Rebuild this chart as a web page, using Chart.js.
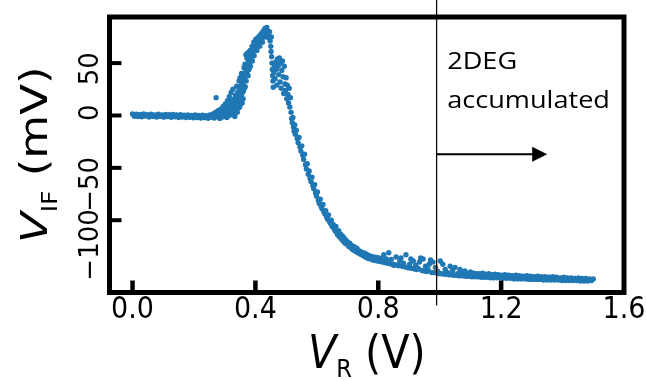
<!DOCTYPE html>
<html>
<head>
<meta charset="utf-8">
<script src="https://cdn.jsdelivr.net/npm/chart.js@4.4.1/dist/chart.umd.min.js"></script>
<style>
  html, body { margin: 0; padding: 0; background: #fff; }
  #chart { display: block; }
</style>
</head>
<body>
<canvas id="chart" width="646" height="381"></canvas>
<script>
// ============================================================
// Data
// ============================================================

// [V_R (V), V_IF (mV)] pairs, split by region of the sweep
const FLAT_POINTS = [
  [0.000, 1.5], [0.006, -0.8], [0.012, 1.2], [0.018, -1.0], [0.024, 0.9], [0.030, -1.3],
  [0.036, 1.4], [0.042, -0.6], [0.048, 0.8], [0.054, -1.5], [0.060, 1.1], [0.066, -0.9],
  [0.072, 0.6], [0.078, -1.4], [0.084, 1.3], [0.090, -0.7], [0.096, 0.5], [0.102, -1.6],
  [0.108, 1.0], [0.114, -1.1], [0.120, 0.7], [0.126, -1.8], [0.132, 0.9], [0.138, -1.2],
  [0.144, 0.4], [0.150, -1.9], [0.156, 0.8], [0.162, -1.5], [0.168, 0.2], [0.174, -2.0],
  [0.180, 0.6], [0.186, -1.7], [0.192, 0.1], [0.198, -2.2], [0.204, 0.5], [0.210, -1.9],
  [0.216, 0.0], [0.222, -2.4], [0.228, 0.3], [0.234, -2.1], [0.240, -0.2], [0.246, -2.6],
  [0.252, 0.4], [0.258, -1.8],
];

const RISE_POINTS = [
  [0.262, 1.5], [0.266, -2.5], [0.270, 3.0], [0.272, 17.0], [0.275, -1.0], [0.278, 4.5],
  [0.281, 0.5], [0.284, -2.8], [0.287, 6.0], [0.290, 2.0], [0.292, -1.5], [0.295, 8.5],
  [0.298, 3.5], [0.300, 0.0], [0.302, 11.0], [0.305, 5.0], [0.307, -2.0], [0.309, 14.0],
  [0.311, 7.5], [0.313, 2.5], [0.315, 18.0], [0.317, 9.5], [0.319, 0.5], [0.321, 22.0],
  [0.323, 12.0], [0.325, 4.0], [0.327, 25.0], [0.329, 15.5], [0.331, 6.5], [0.333, -1.0],
  [0.335, 19.0], [0.337, 10.0], [0.339, 28.0], [0.341, 3.0], [0.343, 22.5], [0.345, 14.0],
  [0.347, 33.0], [0.349, 8.0], [0.351, 26.0], [0.353, 18.5], [0.355, 40.0], [0.357, 12.0],
  [0.359, 31.0], [0.361, 23.0], [0.363, 45.5], [0.365, 36.0], [0.367, 27.5], [0.369, 58.0],
  [0.371, 48.0], [0.373, 40.0], [0.375, 60.0], [0.377, 52.5], [0.379, 44.0], [0.381, 56.0],
  [0.383, 62.0], [0.386, 54.0], [0.389, 66.0], [0.392, 59.0], [0.395, 70.0], [0.398, 64.0],
  [0.401, 72.5], [0.404, 67.0], [0.407, 74.0], [0.410, 69.0], [0.413, 76.0], [0.416, 71.5],
  [0.419, 78.0], [0.422, 74.0], [0.425, 80.5], [0.428, 76.5], [0.431, 83.0], [0.434, 79.0],
  [0.437, 84.0], [0.440, 80.0],
  // second pass through the noisy rise
  [0.296, -0.5], [0.304, 2.5], [0.310, -0.5], [0.316, 5.0], [0.320, 13.5], [0.324, 7.0],
  [0.328, 1.5], [0.332, 11.5], [0.336, 4.5], [0.338, 16.0], [0.340, 20.0], [0.344, 7.0],
  [0.346, 27.0], [0.348, 17.0], [0.350, 36.0], [0.352, 11.0], [0.354, 29.0], [0.356, 21.0],
  [0.358, 37.0], [0.360, 16.0], [0.362, 34.0], [0.364, 26.0], [0.366, 49.0], [0.368, 41.0],
  [0.370, 33.0], [0.372, 55.0], [0.374, 46.0], [0.376, 38.0], [0.378, 59.0], [0.380, 50.0],
  [0.384, 47.0], [0.387, 60.0], [0.390, 52.0], [0.393, 64.0], [0.396, 57.0], [0.400, 68.0],
  [0.405, 62.0], [0.409, 72.0], [0.414, 66.0], [0.418, 75.0], [0.423, 70.0], [0.427, 79.0],
  [0.432, 75.0], [0.436, 81.0],
];

const FALL_POINTS = [
  [0.442, 78], [0.444, 74], [0.446, 80], [0.448, 71], [0.450, 66], [0.451, 61], [0.452, 75],
  [0.453, 56], [0.454, 50], [0.455, 44], [0.456, 38], [0.457, 33], [0.458, 27], [0.460, 41],
  [0.462, 47], [0.464, 35], [0.466, 51], [0.468, 44], [0.470, 29], [0.472, 54], [0.474, 47],
  [0.476, 39], [0.478, 55], [0.480, 32], [0.482, 50], [0.484, 26], [0.486, 43], [0.488, 52],
  [0.490, 37], [0.492, 21], [0.494, 47], [0.496, 30], [0.498, 24], [0.500, 36], [0.502, 16],
  [0.504, 29], [0.506, 20], [0.508, 12], [0.510, 26], [0.512, 8], [0.514, 17], [0.516, 3],
  [0.518, -3], [0.520, -7], [0.522, -2], [0.524, -11], [0.526, -15], [0.528, -9], [0.530, -18],
  [0.533, -14], [0.536, -22], [0.539, -26], [0.542, -21], [0.545, -30], [0.548, -34], [0.551, -29],
  [0.554, -38], [0.557, -42], [0.560, -37], [0.563, -47], [0.566, -51], [0.569, -46], [0.572, -56],
  [0.575, -53], [0.578, -60], [0.581, -63], [0.584, -59], [0.587, -67], [0.590, -70], [0.593, -66],
  [0.596, -74], [0.599, -77], [0.602, -73], [0.605, -81], [0.608, -84], [0.611, -80], [0.614, -87],
  [0.617, -89], [0.620, -85], [0.623, -92], [0.626, -94], [0.629, -91], [0.632, -97], [0.635, -99],
  [0.638, -95], [0.641, -101], [0.644, -103], [0.647, -100], [0.650, -106], [0.653, -104],
  [0.656, -108], [0.659, -110], [0.662, -106], [0.665, -112], [0.668, -114], [0.671, -110],
  [0.674, -116], [0.677, -113], [0.680, -118], [0.683, -115], [0.686, -120], [0.689, -117],
  [0.692, -122], [0.695, -119], [0.698, -123], [0.701, -121], [0.704, -125], [0.707, -122],
  [0.710, -126], [0.713, -124], [0.716, -128], [0.719, -125], [0.722, -129], [0.725, -126],
  [0.728, -130], [0.731, -127], [0.734, -131], [0.737, -129], [0.740, -132], [0.743, -130],
  [0.746, -133], [0.749, -131], [0.752, -134], [0.755, -131.5], [0.758, -135], [0.761, -132.5],
  [0.764, -136], [0.767, -133.5], [0.770, -136.5], [0.773, -134], [0.776, -137], [0.779, -135],
];

const TAIL_POINTS = [
  [0.782, -138], [0.786, -135], [0.790, -138.5], [0.794, -135.5], [0.798, -139], [0.802, -136],
  [0.806, -139.5], [0.810, -136.5], [0.814, -140], [0.818, -133], [0.822, -140.5], [0.826, -137],
  [0.830, -141], [0.834, -131], [0.838, -141.5], [0.842, -137.5], [0.846, -142], [0.850, -143],
  [0.854, -142.5], [0.858, -135], [0.862, -143], [0.866, -143.5], [0.870, -139], [0.874, -136],
  [0.878, -144], [0.882, -141], [0.886, -144.5], [0.890, -133], [0.894, -145], [0.898, -145.5],
  [0.902, -142], [0.906, -137], [0.910, -146], [0.914, -139], [0.918, -146.5], [0.922, -143],
  [0.926, -147], [0.930, -146], [0.934, -140], [0.938, -136], [0.942, -148], [0.946, -137],
  [0.950, -148.5], [0.954, -144], [0.958, -149], [0.962, -147], [0.966, -142], [0.970, -138],
  [0.974, -150], [0.978, -140], [0.982, -150], [0.986, -145], [0.990, -150.5], [0.994, -149],
  [0.998, -151], [1.002, -139], [1.006, -151], [1.010, -142], [1.014, -151.5], [1.018, -147],
  [1.022, -151.5], [1.026, -150], [1.030, -152], [1.034, -144], [1.038, -152], [1.042, -148],
  [1.046, -152.5], [1.050, -145], [1.054, -152.5], [1.058, -151], [1.062, -153], [1.066, -147],
  [1.070, -153], [1.074, -150], [1.078, -153], [1.082, -148.5], [1.086, -153.5], [1.090, -151],
  [1.095, -153.5], [1.100, -149.5], [1.105, -154], [1.110, -150.5], [1.115, -154], [1.120, -151],
  [1.125, -154], [1.130, -151], [1.135, -154.5], [1.140, -150.5], [1.145, -154.5], [1.150, -151.5],
  [1.155, -154.5], [1.160, -151], [1.165, -155], [1.170, -152], [1.175, -155], [1.180, -151.5],
  [1.185, -155], [1.190, -152], [1.195, -155], [1.200, -152.5], [1.206, -155.5], [1.212, -152],
  [1.218, -155.5], [1.224, -152.5], [1.230, -155.5], [1.236, -153], [1.242, -156], [1.248, -152.5],
  [1.254, -156], [1.260, -153], [1.266, -156], [1.272, -153.5], [1.278, -156], [1.284, -153],
  [1.290, -156.5], [1.296, -153.5], [1.302, -156.5], [1.308, -154], [1.314, -156.5], [1.320, -153.5],
  [1.326, -156.5], [1.332, -154], [1.338, -157], [1.344, -154], [1.350, -157], [1.356, -154.5],
  [1.362, -157], [1.368, -154], [1.374, -157], [1.380, -154.5], [1.386, -157], [1.392, -155],
  [1.398, -157.5], [1.404, -154.5], [1.410, -157.5], [1.416, -155], [1.422, -157.5], [1.428, -155],
  [1.434, -157.5], [1.440, -155.5], [1.446, -157.5], [1.452, -155], [1.458, -158], [1.464, -155.5],
  [1.470, -158], [1.476, -155.5], [1.482, -158], [1.488, -156], [1.494, -157.5], [1.500, -156],
];

const X_TICKS = [0.0, 0.4, 0.8, 1.2, 1.6];
const Y_TICKS = [-100, -50, 0, 50];
const X_RANGE = [-0.075, 1.6];
const Y_RANGE = [-169, 94];

// Annotation: start of the "2DEG accumulated" region
const BOUNDARY_VR = 0.99;
const ARROW_END_VR = 1.35;
const ARROW_VIF = -37;
const NOTE_LINES = ['2DEG', 'accumulated'];
const NOTE_VIF = [44, 7.5];

// ============================================================
// Styles
// ============================================================

const POINT_COLOR = '#1f77b4';
const MPL_FONT = '"DejaVu Sans"';
const TICK_FONT_X = '"DejaVu Sans Condensed", "DejaVu Sans"';
const NOTE_FONT = '"Open Sans", "Noto Sans", sans-serif';

// ============================================================
// Helpers
// ============================================================

function toPoints(pairs) {
  return pairs.map(([vr, vif]) => ({ x: vr, y: vif }));
}

function fmtTick(v) {
  return v < 0 ? '\u2212' + Math.abs(v) : String(v);
}

// Draw a run of text pieces (main text + subscript) centred on x = 0
function drawRich(ctx, parts) {
  let total = 0;
  parts.forEach(p => { ctx.font = p.font; total += ctx.measureText(p.text).width; });
  let cx = -total / 2;
  parts.forEach(p => {
    ctx.font = p.font;
    ctx.fillText(p.text, cx, p.dy || 0);
    cx += ctx.measureText(p.text).width;
  });
}

// ============================================================
// Plugin: frame, inward ticks, axis titles, annotation
// ============================================================

const decorations = {
  id: 'decorations',
  afterDraw(chart) {
    const { ctx, chartArea: a, scales: { x, y } } = chart;
    ctx.save();
    ctx.strokeStyle = '#000';
    ctx.fillStyle = '#000';

    // inward tick marks
    ctx.lineWidth = 4.5;
    X_TICKS.forEach(v => {
      if (v >= X_RANGE[1]) return;
      const px = x.getPixelForValue(v);
      ctx.beginPath();
      ctx.moveTo(px, a.bottom);
      ctx.lineTo(px, a.bottom - 12);
      ctx.stroke();
    });
    ctx.lineWidth = 4;
    Y_TICKS.forEach(v => {
      const py = y.getPixelForValue(v);
      ctx.beginPath();
      ctx.moveTo(a.left, py);
      ctx.lineTo(a.left + 12, py);
      ctx.stroke();
    });

    // thick frame
    ctx.lineWidth = 5;
    ctx.strokeRect(a.left, a.top, a.right - a.left, a.bottom - a.top);

    // boundary line
    const bx = x.getPixelForValue(BOUNDARY_VR);
    ctx.lineWidth = 1.2;
    ctx.beginPath();
    ctx.moveTo(bx, 0);
    ctx.lineTo(bx, a.bottom + 13);
    ctx.stroke();

    // arrow
    const ay = y.getPixelForValue(ARROW_VIF);
    const tip = x.getPixelForValue(ARROW_END_VR);
    ctx.lineWidth = 2;
    ctx.beginPath();
    ctx.moveTo(bx, ay);
    ctx.lineTo(tip - 10, ay);
    ctx.stroke();
    ctx.beginPath();
    ctx.moveTo(tip, ay);
    ctx.lineTo(tip - 15, ay - 7.5);
    ctx.lineTo(tip - 15, ay + 7.5);
    ctx.closePath();
    ctx.fill();

    // note text
    ctx.textBaseline = 'alphabetic';
    ctx.textAlign = 'left';
    ctx.font = '24px ' + NOTE_FONT;
    NOTE_LINES.forEach((line, i) => {
      ctx.save();
      ctx.translate(bx + 10.5, y.getPixelForValue(NOTE_VIF[i]));
      ctx.scale(1.13, 1);
      ctx.fillText(line, 0, 0);
      ctx.restore();
    });

    // x axis title: V_R (V)
    ctx.save();
    ctx.translate((a.left + a.right) / 2, 368);
    ctx.scale(0.9, 1);
    drawRich(ctx, [
      { text: 'V', font: 'italic 46px ' + MPL_FONT },
      { text: 'R', font: '25px ' + MPL_FONT, dy: 9 },
      { text: ' (V)', font: '46px ' + MPL_FONT },
    ]);
    ctx.restore();

    // y axis title: V_IF (mV)
    ctx.save();
    ctx.translate(47, (a.top + a.bottom) / 2);
    ctx.rotate(-Math.PI / 2);
    ctx.scale(1, 0.84);
    drawRich(ctx, [
      { text: 'V', font: 'italic 45px ' + MPL_FONT },
      { text: 'IF', font: '25px ' + MPL_FONT, dy: 12 },
      { text: ' (mV)', font: '45px ' + MPL_FONT },
    ]);
    ctx.restore();

    ctx.restore();
  },
};

// ============================================================
// Chart
// ============================================================

const allPoints = [
  ...toPoints(FLAT_POINTS),
  ...toPoints(RISE_POINTS),
  ...toPoints(FALL_POINTS),
  ...toPoints(TAIL_POINTS),
];

new Chart(document.getElementById('chart'), {
  type: 'scatter',
  data: {
    datasets: [{
      data: allPoints,
      pointRadius: 2.7,
      pointBorderWidth: 0,
      pointBackgroundColor: POINT_COLOR,
      pointHoverRadius: 2.7,
    }],
  },
  options: {
    responsive: false,
    animation: false,
    events: [],
    layout: { padding: { top: 17, right: 22, left: 0, bottom: 0 } },
    plugins: {
      legend: { display: false },
      tooltip: { enabled: false },
    },
    scales: {
      x: {
        type: 'linear',
        min: X_RANGE[0],
        max: X_RANGE[1],
        grid: { display: false, drawTicks: false },
        border: { display: false },
        afterBuildTicks: s => { s.ticks = X_TICKS.map(v => ({ value: v })); },
        afterFit: s => { s.height = 88.5; s.paddingLeft = 0; s.paddingRight = 0; },
        ticks: {
          autoSkip: false,
          maxRotation: 0,
          padding: 0,
          color: '#000',
          font: { family: TICK_FONT_X, size: 30 },
          callback: v => v.toFixed(1),
        },
      },
      y: {
        type: 'linear',
        min: Y_RANGE[0],
        max: Y_RANGE[1],
        grid: { display: false, drawTicks: false },
        border: { display: false },
        afterBuildTicks: s => { s.ticks = Y_TICKS.map(v => ({ value: v })); },
        afterFit: s => { s.width = 109.5; s.paddingTop = 0; s.paddingBottom = 0; },
        ticks: {
          autoSkip: false,
          minRotation: 90,
          maxRotation: 90,
          labelOffset: -11,
          padding: 18,
          color: '#000',
          font: { family: MPL_FONT, size: 26 },
          callback: v => fmtTick(v),
        },
      },
    },
  },
  plugins: [decorations],
});
</script>
</body>
</html>
